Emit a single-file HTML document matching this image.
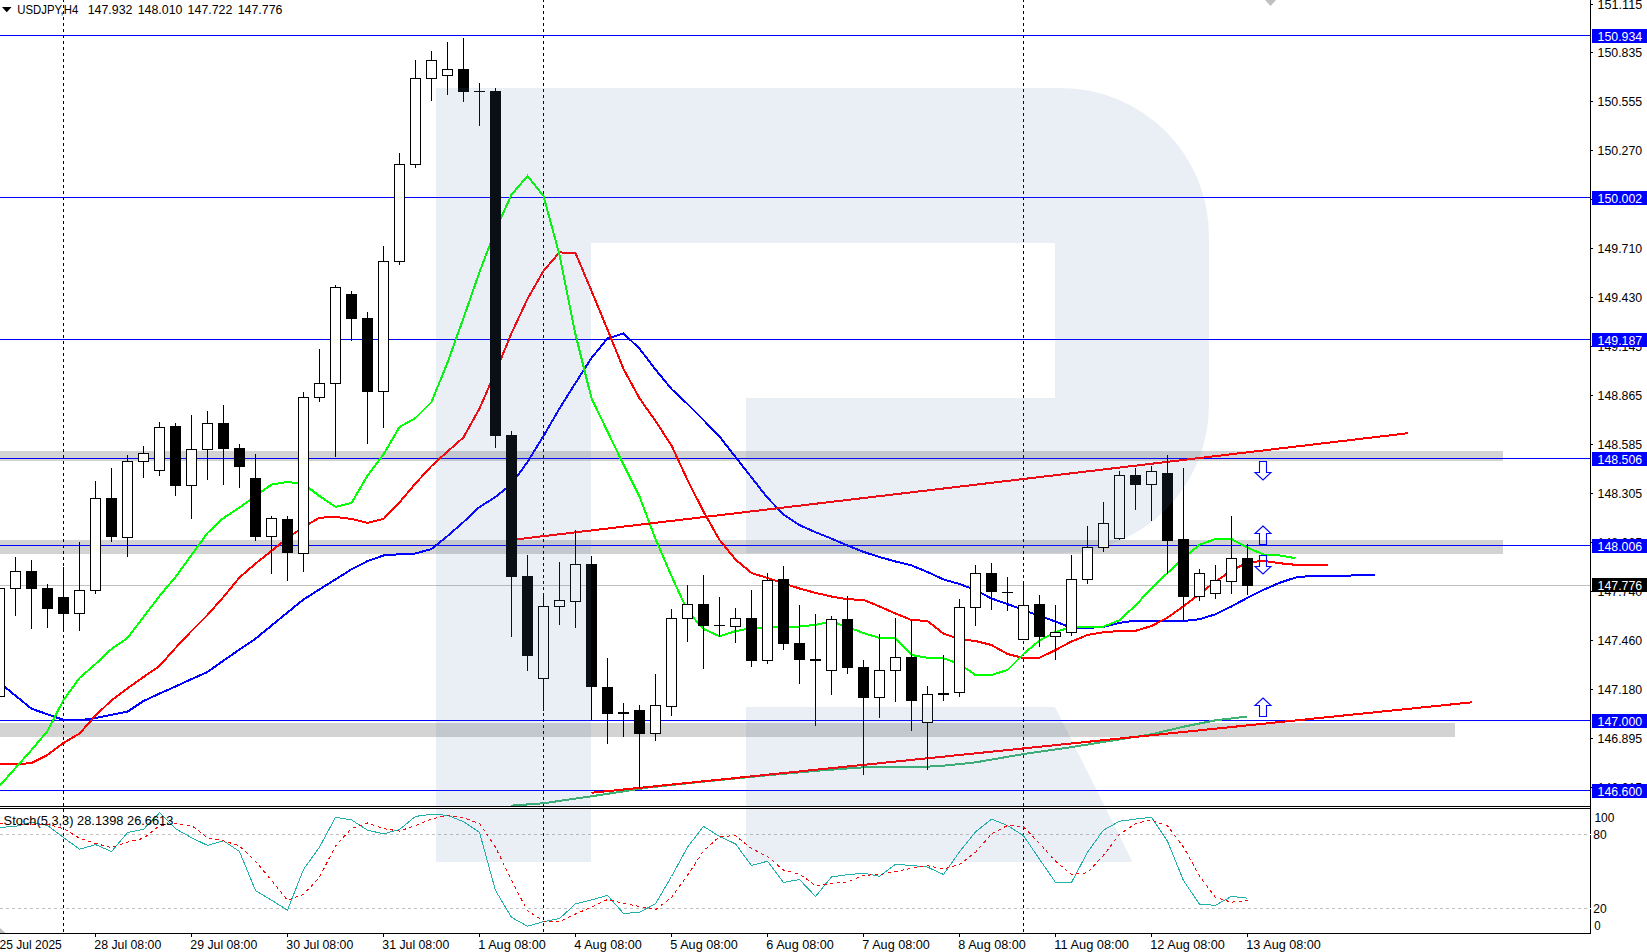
<!DOCTYPE html>
<html lang="en"><head><meta charset="utf-8"><title>USDJPY,H4</title>
<style>html,body{margin:0;padding:0;background:#fff}body{width:1647px;height:952px;overflow:hidden}svg{display:block}text{font-family:"Liberation Sans",sans-serif;font-size:12.4px;fill:#000}.w{fill:#fff}</style>
</head><body>
<svg width="1647" height="952" viewBox="0 0 1647 952">
<rect width="1647" height="952" fill="#fff"/>
<g shape-rendering="crispEdges">
<rect x="0" y="451" width="1503" height="10" fill="#d3d3d3"/>
<rect x="0" y="540" width="1503" height="14" fill="#d3d3d3"/>
<rect x="0" y="723" width="1455" height="14" fill="#d3d3d3"/>
<rect x="0" y="585" width="1590" height="1" fill="#c0c0c0"/>
<rect x="0" y="35" width="1590" height="1" fill="#0000ff"/>
<rect x="0" y="197" width="1590" height="1" fill="#0000ff"/>
<rect x="0" y="339" width="1590" height="1" fill="#0000ff"/>
<rect x="0" y="458" width="1590" height="1" fill="#0000ff"/>
<rect x="0" y="545" width="1590" height="1" fill="#0000ff"/>
<rect x="0" y="720" width="1590" height="1" fill="#0000ff"/>
<rect x="0" y="790" width="1590" height="1" fill="#0000ff"/>
<line x1="63.5" y1="-1" x2="63.5" y2="933" stroke="#000" stroke-width="1" stroke-dasharray="3 3"/>
<line x1="543.5" y1="-1" x2="543.5" y2="933" stroke="#000" stroke-width="1" stroke-dasharray="3 3"/>
<line x1="1023.5" y1="-1" x2="1023.5" y2="933" stroke="#000" stroke-width="1" stroke-dasharray="3 3"/>
<polyline fill="none" stroke="#0000ff" stroke-width="2" points="4.6,686.7 15.5,695.7 31.5,708.7 47.5,714.3 63.5,719.9 79.5,720.2 95.5,718.1 111.5,714.8 127.5,711.7 143.5,701.0 159.5,693.6 175.5,686.5 191.5,679.1 207.5,672.0 223.5,660.6 239.5,649.6 255.5,638.7 271.5,625.6 287.5,612.5 303.5,599.5 319.5,589.4 335.5,579.4 351.5,569.3 367.5,561.1 383.5,555.5 399.5,554.2 415.5,553.5 431.5,549.0 447.5,536.0 463.5,522.0 479.5,507.0 495.5,497.0 511.5,484.0 527.5,462.0 543.5,436.0 559.5,408.5 575.5,383.0 591.5,358.0 607.5,338.4 623.5,333.5 639.5,348.6 655.5,369.5 671.5,389.0 687.5,404.0 703.5,420.0 719.5,436.5 735.5,457.0 751.5,477.4 767.5,497.8 783.5,514.4 799.5,525.1 815.5,532.2 831.5,538.6 847.5,545.5 863.5,551.9 879.5,557.0 895.5,561.5 911.5,565.4 927.5,572.0 943.5,579.4 959.5,584.0 975.5,590.0 991.5,598.5 1007.5,604.1 1023.5,610.0 1039.5,616.0 1055.5,621.5 1071.5,627.9 1087.5,627.9 1103.5,627.0 1119.5,622.8 1135.5,620.7 1151.5,620.7 1167.5,620.7 1183.5,621.0 1199.5,619.2 1215.5,614.3 1231.5,606.4 1247.5,597.8 1263.5,589.8 1279.5,582.8 1295.5,577.6 1311.5,575.7 1327.5,575.7 1343.5,575.7 1359.5,575.3 1375.5,575.0"/>
<polyline fill="none" stroke="#ff0000" stroke-width="2" points="-0.5,764.0 15.5,764.5 31.5,763.0 47.5,755.0 63.5,743.0 79.5,733.5 95.5,715.6 111.5,700.3 127.5,688.3 143.5,677.0 159.5,666.0 175.5,648.0 191.5,631.0 207.5,615.0 223.5,597.0 239.5,577.5 255.5,563.6 271.5,551.0 287.5,538.0 303.5,527.0 319.5,517.7 335.5,517.0 351.5,519.0 367.5,522.8 383.5,519.0 399.5,502.4 415.5,483.5 431.5,466.0 447.5,451.5 463.5,437.4 479.5,408.5 495.5,372.0 511.5,333.3 527.5,299.0 543.5,270.8 559.5,252.4 575.5,253.0 591.5,291.0 607.5,329.5 623.5,369.0 639.5,398.3 655.5,421.0 671.5,445.5 687.5,480.0 703.5,511.5 719.5,539.9 735.5,559.5 751.5,573.0 767.5,578.0 783.5,583.3 799.5,588.5 815.5,592.9 831.5,596.5 847.5,599.3 863.5,599.8 879.5,606.5 895.5,613.5 911.5,620.0 927.5,621.0 943.5,633.6 959.5,639.2 975.5,641.0 991.5,645.0 1007.5,654.0 1023.5,658.0 1039.5,657.8 1055.5,650.0 1071.5,641.5 1087.5,635.0 1103.5,632.2 1119.5,631.0 1135.5,630.8 1151.5,626.0 1167.5,617.7 1183.5,606.2 1199.5,594.0 1215.5,581.5 1231.5,570.6 1247.5,562.5 1263.5,560.8 1279.5,563.2 1295.5,564.8 1311.5,564.8 1327.5,564.8"/>
<polyline fill="none" stroke="#00ff00" stroke-width="2" points="-0.5,786.0 15.5,768.0 31.5,750.0 47.5,731.0 63.5,700.0 79.5,678.0 95.5,664.0 111.5,649.0 127.5,638.0 143.5,617.0 159.5,596.0 175.5,577.0 191.5,555.0 207.5,533.0 223.5,518.0 239.5,507.5 255.5,496.0 271.5,484.6 287.5,482.0 303.5,484.0 319.5,496.0 335.5,506.8 351.5,503.0 367.5,475.6 383.5,454.5 399.5,427.0 415.5,418.0 431.5,402.0 447.5,362.6 463.5,318.0 479.5,272.0 495.5,230.0 511.5,194.7 527.5,176.0 543.5,196.0 559.5,255.0 575.5,334.6 591.5,398.3 607.5,431.5 623.5,464.6 639.5,496.5 655.5,539.0 671.5,576.0 687.5,611.0 703.5,629.0 719.5,636.3 735.5,631.2 751.5,628.0 767.5,627.9 783.5,626.5 799.5,626.6 815.5,624.8 831.5,621.5 847.5,627.0 863.5,633.0 879.5,638.0 895.5,638.0 911.5,655.0 927.5,657.8 943.5,658.3 959.5,664.0 975.5,675.0 991.5,675.0 1007.5,670.0 1023.5,654.0 1039.5,640.5 1055.5,632.0 1071.5,627.0 1087.5,626.8 1103.5,626.6 1119.5,620.2 1135.5,605.4 1151.5,588.3 1167.5,573.0 1183.5,558.0 1199.5,544.8 1215.5,539.0 1231.5,539.0 1247.5,547.7 1263.5,554.5 1279.5,555.4 1295.5,558.2"/>
<clipPath id="mc"><rect x="0" y="0" width="1590" height="806"/></clipPath>
<polyline clip-path="url(#mc)" fill="none" stroke="#3cb371" stroke-width="2" points="510.6,805.7 543.8,803.2 591.5,796.3 648.3,787.5 700,782 760,776 820,770.5 863.6,767.3 900,767 927.4,766.7 943.5,765.7 975.4,762.4 1023.6,754 1071.5,747.1 1119.5,739.4 1151.6,734.3 1183.5,726.7 1215.6,720.3 1247.5,716.5"/>
<line x1="517" y1="539.3" x2="1408" y2="433.2" stroke="#ff0000" stroke-width="2"/>
<line x1="591.5" y1="792.8" x2="1472" y2="702.3" stroke="#ff0000" stroke-width="2"/>
</g>
<g fill="none" stroke="#0000ff" stroke-width="1.1">
<path d="M1259.5,461.5 H1266.5 V472.5 H1271 L1263,480.0 L1255,472.5 H1259.5 Z"/>
<path d="M1263,526 L1271,533.5 H1266.5 V544.5 H1259.5 V533.5 H1255 Z"/>
<path d="M1259.5,555.5 H1266.5 V566.5 H1271 L1263,574.0 L1255,566.5 H1259.5 Z"/>
<path d="M1263,698 L1271,705.5 H1266.5 V716.5 H1259.5 V705.5 H1255 Z"/>
</g>
<g shape-rendering="crispEdges">
<rect x="-5.5" y="588.5" width="10" height="108" fill="#fff" stroke="#000" stroke-width="1"/>
<rect x="15" y="557" width="1" height="59" fill="#000"/>
<rect x="10.5" y="571.5" width="10" height="17" fill="#fff" stroke="#000" stroke-width="1"/>
<rect x="31" y="560" width="1" height="69" fill="#000"/>
<rect x="26" y="571" width="11" height="18" fill="#000"/>
<rect x="47" y="584" width="1" height="44" fill="#000"/>
<rect x="42" y="588" width="11" height="21" fill="#000"/>
<rect x="63" y="567" width="1" height="64" fill="#000"/>
<rect x="58" y="597" width="11" height="17" fill="#000"/>
<rect x="79" y="542" width="1" height="89" fill="#000"/>
<rect x="74.5" y="590.5" width="10" height="23" fill="#fff" stroke="#000" stroke-width="1"/>
<rect x="95" y="481" width="1" height="113" fill="#000"/>
<rect x="90.5" y="498.5" width="10" height="92" fill="#fff" stroke="#000" stroke-width="1"/>
<rect x="111" y="468" width="1" height="74" fill="#000"/>
<rect x="106" y="498" width="11" height="39" fill="#000"/>
<rect x="127" y="455" width="1" height="102" fill="#000"/>
<rect x="122.5" y="461.5" width="10" height="76" fill="#fff" stroke="#000" stroke-width="1"/>
<rect x="143" y="446" width="1" height="32" fill="#000"/>
<rect x="138.5" y="453.5" width="10" height="8" fill="#fff" stroke="#000" stroke-width="1"/>
<rect x="159" y="422" width="1" height="54" fill="#000"/>
<rect x="154.5" y="427.5" width="10" height="43" fill="#fff" stroke="#000" stroke-width="1"/>
<rect x="175" y="423" width="1" height="73" fill="#000"/>
<rect x="170" y="426" width="11" height="60" fill="#000"/>
<rect x="191" y="415" width="1" height="104" fill="#000"/>
<rect x="186.5" y="449.5" width="10" height="36" fill="#fff" stroke="#000" stroke-width="1"/>
<rect x="207" y="411" width="1" height="69" fill="#000"/>
<rect x="202.5" y="423.5" width="10" height="26" fill="#fff" stroke="#000" stroke-width="1"/>
<rect x="223" y="405" width="1" height="80" fill="#000"/>
<rect x="218" y="423" width="11" height="26" fill="#000"/>
<rect x="239" y="444" width="1" height="44" fill="#000"/>
<rect x="234" y="448" width="11" height="19" fill="#000"/>
<rect x="255" y="454" width="1" height="87" fill="#000"/>
<rect x="250" y="478" width="11" height="59" fill="#000"/>
<rect x="271" y="516" width="1" height="58" fill="#000"/>
<rect x="266.5" y="518.5" width="10" height="18" fill="#fff" stroke="#000" stroke-width="1"/>
<rect x="287" y="516" width="1" height="65" fill="#000"/>
<rect x="282" y="519" width="11" height="34" fill="#000"/>
<rect x="303" y="392" width="1" height="180" fill="#000"/>
<rect x="298.5" y="397.5" width="10" height="156" fill="#fff" stroke="#000" stroke-width="1"/>
<rect x="319" y="349" width="1" height="53" fill="#000"/>
<rect x="314.5" y="383.5" width="10" height="14" fill="#fff" stroke="#000" stroke-width="1"/>
<rect x="335" y="285" width="1" height="172" fill="#000"/>
<rect x="330.5" y="287.5" width="10" height="96" fill="#fff" stroke="#000" stroke-width="1"/>
<rect x="351" y="291" width="1" height="50" fill="#000"/>
<rect x="346" y="294" width="11" height="25" fill="#000"/>
<rect x="367" y="312" width="1" height="132" fill="#000"/>
<rect x="362" y="318" width="11" height="74" fill="#000"/>
<rect x="383" y="246" width="1" height="182" fill="#000"/>
<rect x="378.5" y="261.5" width="10" height="130" fill="#fff" stroke="#000" stroke-width="1"/>
<rect x="399" y="153" width="1" height="112" fill="#000"/>
<rect x="394.5" y="164.5" width="10" height="97" fill="#fff" stroke="#000" stroke-width="1"/>
<rect x="415" y="60" width="1" height="108" fill="#000"/>
<rect x="410.5" y="78.5" width="10" height="86" fill="#fff" stroke="#000" stroke-width="1"/>
<rect x="431" y="51" width="1" height="50" fill="#000"/>
<rect x="426.5" y="60.5" width="10" height="18" fill="#fff" stroke="#000" stroke-width="1"/>
<rect x="447" y="42" width="1" height="53" fill="#000"/>
<rect x="442.5" y="69.5" width="10" height="6" fill="#fff" stroke="#000" stroke-width="1"/>
<rect x="463" y="38" width="1" height="64" fill="#000"/>
<rect x="458" y="69" width="11" height="23" fill="#000"/>
<rect x="479" y="83" width="1" height="43" fill="#000"/>
<rect x="474" y="91" width="11" height="1" fill="#000"/>
<rect x="495" y="88" width="1" height="360" fill="#000"/>
<rect x="490" y="91" width="11" height="345" fill="#000"/>
<rect x="511" y="431" width="1" height="206" fill="#000"/>
<rect x="506" y="435" width="11" height="142" fill="#000"/>
<rect x="527" y="555" width="1" height="116" fill="#000"/>
<rect x="522" y="576" width="11" height="80" fill="#000"/>
<rect x="543" y="596" width="1" height="115" fill="#000"/>
<rect x="538.5" y="606.5" width="10" height="72" fill="#fff" stroke="#000" stroke-width="1"/>
<rect x="559" y="562" width="1" height="63" fill="#000"/>
<rect x="554.5" y="600.5" width="10" height="6" fill="#fff" stroke="#000" stroke-width="1"/>
<rect x="575" y="530" width="1" height="98" fill="#000"/>
<rect x="570.5" y="564.5" width="10" height="37" fill="#fff" stroke="#000" stroke-width="1"/>
<rect x="591" y="556" width="1" height="164" fill="#000"/>
<rect x="586" y="564" width="11" height="123" fill="#000"/>
<rect x="607" y="658" width="1" height="86" fill="#000"/>
<rect x="602" y="687" width="11" height="27" fill="#000"/>
<rect x="623" y="703" width="1" height="34" fill="#000"/>
<rect x="618" y="712" width="11" height="2" fill="#000"/>
<rect x="639" y="705" width="1" height="83" fill="#000"/>
<rect x="634" y="710" width="11" height="24" fill="#000"/>
<rect x="655" y="674" width="1" height="67" fill="#000"/>
<rect x="650.5" y="705.5" width="10" height="28" fill="#fff" stroke="#000" stroke-width="1"/>
<rect x="671" y="609" width="1" height="107" fill="#000"/>
<rect x="666.5" y="618.5" width="10" height="88" fill="#fff" stroke="#000" stroke-width="1"/>
<rect x="687" y="585" width="1" height="57" fill="#000"/>
<rect x="682.5" y="604.5" width="10" height="14" fill="#fff" stroke="#000" stroke-width="1"/>
<rect x="703" y="575" width="1" height="94" fill="#000"/>
<rect x="698" y="604" width="11" height="22" fill="#000"/>
<rect x="719" y="597" width="1" height="40" fill="#000"/>
<rect x="714" y="625" width="11" height="1" fill="#000"/>
<rect x="735" y="608" width="1" height="35" fill="#000"/>
<rect x="730.5" y="618.5" width="10" height="8" fill="#fff" stroke="#000" stroke-width="1"/>
<rect x="751" y="590" width="1" height="77" fill="#000"/>
<rect x="746" y="618" width="11" height="43" fill="#000"/>
<rect x="767" y="573" width="1" height="91" fill="#000"/>
<rect x="762.5" y="580.5" width="10" height="80" fill="#fff" stroke="#000" stroke-width="1"/>
<rect x="783" y="566" width="1" height="84" fill="#000"/>
<rect x="778" y="579" width="11" height="65" fill="#000"/>
<rect x="799" y="605" width="1" height="79" fill="#000"/>
<rect x="794" y="643" width="11" height="17" fill="#000"/>
<rect x="815" y="614" width="1" height="112" fill="#000"/>
<rect x="810" y="659" width="11" height="2" fill="#000"/>
<rect x="831" y="616" width="1" height="79" fill="#000"/>
<rect x="826.5" y="619.5" width="10" height="51" fill="#fff" stroke="#000" stroke-width="1"/>
<rect x="847" y="596" width="1" height="78" fill="#000"/>
<rect x="842" y="619" width="11" height="49" fill="#000"/>
<rect x="863" y="660" width="1" height="115" fill="#000"/>
<rect x="858" y="667" width="11" height="31" fill="#000"/>
<rect x="879" y="634" width="1" height="84" fill="#000"/>
<rect x="874.5" y="670.5" width="10" height="27" fill="#fff" stroke="#000" stroke-width="1"/>
<rect x="895" y="618" width="1" height="84" fill="#000"/>
<rect x="890.5" y="657.5" width="10" height="13" fill="#fff" stroke="#000" stroke-width="1"/>
<rect x="911" y="620" width="1" height="111" fill="#000"/>
<rect x="906" y="657" width="11" height="44" fill="#000"/>
<rect x="927" y="686" width="1" height="84" fill="#000"/>
<rect x="922.5" y="694.5" width="10" height="28" fill="#fff" stroke="#000" stroke-width="1"/>
<rect x="943" y="655" width="1" height="46" fill="#000"/>
<rect x="938" y="693" width="11" height="2" fill="#000"/>
<rect x="959" y="599" width="1" height="98" fill="#000"/>
<rect x="954.5" y="607.5" width="10" height="85" fill="#fff" stroke="#000" stroke-width="1"/>
<rect x="975" y="565" width="1" height="61" fill="#000"/>
<rect x="970.5" y="573.5" width="10" height="34" fill="#fff" stroke="#000" stroke-width="1"/>
<rect x="991" y="563" width="1" height="47" fill="#000"/>
<rect x="986" y="573" width="11" height="19" fill="#000"/>
<rect x="1007" y="577" width="1" height="34" fill="#000"/>
<rect x="1002" y="592" width="11" height="1" fill="#000"/>
<rect x="1023" y="581" width="1" height="59" fill="#000"/>
<rect x="1018.5" y="605.5" width="10" height="34" fill="#fff" stroke="#000" stroke-width="1"/>
<rect x="1039" y="595" width="1" height="52" fill="#000"/>
<rect x="1034" y="604" width="11" height="33" fill="#000"/>
<rect x="1055" y="605" width="1" height="55" fill="#000"/>
<rect x="1050.5" y="632.5" width="10" height="4" fill="#fff" stroke="#000" stroke-width="1"/>
<rect x="1071" y="555" width="1" height="81" fill="#000"/>
<rect x="1066.5" y="579.5" width="10" height="53" fill="#fff" stroke="#000" stroke-width="1"/>
<rect x="1087" y="526" width="1" height="58" fill="#000"/>
<rect x="1082.5" y="547.5" width="10" height="32" fill="#fff" stroke="#000" stroke-width="1"/>
<rect x="1103" y="502" width="1" height="50" fill="#000"/>
<rect x="1098.5" y="523.5" width="10" height="24" fill="#fff" stroke="#000" stroke-width="1"/>
<rect x="1119" y="471" width="1" height="69" fill="#000"/>
<rect x="1114.5" y="475.5" width="10" height="63" fill="#fff" stroke="#000" stroke-width="1"/>
<rect x="1135" y="468" width="1" height="42" fill="#000"/>
<rect x="1130" y="475" width="11" height="10" fill="#000"/>
<rect x="1151" y="466" width="1" height="55" fill="#000"/>
<rect x="1146.5" y="471.5" width="10" height="13" fill="#fff" stroke="#000" stroke-width="1"/>
<rect x="1167" y="455" width="1" height="119" fill="#000"/>
<rect x="1162" y="473" width="11" height="68" fill="#000"/>
<rect x="1183" y="468" width="1" height="153" fill="#000"/>
<rect x="1178" y="539" width="11" height="58" fill="#000"/>
<rect x="1199" y="569" width="1" height="32" fill="#000"/>
<rect x="1194.5" y="573.5" width="10" height="23" fill="#fff" stroke="#000" stroke-width="1"/>
<rect x="1215" y="565" width="1" height="34" fill="#000"/>
<rect x="1210.5" y="580.5" width="10" height="13" fill="#fff" stroke="#000" stroke-width="1"/>
<rect x="1231" y="516" width="1" height="78" fill="#000"/>
<rect x="1226.5" y="558.5" width="10" height="23" fill="#fff" stroke="#000" stroke-width="1"/>
<rect x="1247" y="544" width="1" height="51" fill="#000"/>
<rect x="1242" y="558" width="11" height="28" fill="#000"/>
</g>
<g shape-rendering="crispEdges">
<line x1="0" y1="834.5" x2="1590" y2="834.5" stroke="#c0c0c0" stroke-width="1" stroke-dasharray="3 3"/>
<line x1="0" y1="908.5" x2="1590" y2="908.5" stroke="#c0c0c0" stroke-width="1" stroke-dasharray="3 3"/>
</g>
<polyline shape-rendering="crispEdges" fill="none" stroke="#20b2aa" stroke-width="1" points="-0.5,827.5 15.5,826.3 31.5,822.4 47.5,825.5 63.5,837.5 79.5,849.2 95.5,844.6 111.5,851.5 127.5,832.6 143.5,829.3 159.5,812.8 175.5,828.8 191.5,837.7 207.5,845.4 223.5,840.8 239.5,851.5 255.5,890.5 271.5,900.2 287.5,910.2 303.5,869.4 319.5,847.2 335.5,817.3 351.5,819.9 367.5,830.1 383.5,833.9 399.5,829.5 415.5,816.4 431.5,814.3 447.5,815.3 463.5,821.7 479.5,832.4 495.5,890.5 511.5,917.3 527.5,926.2 543.5,921.7 559.5,918.6 575.5,903.8 591.5,900.0 607.5,895.4 623.5,913.5 639.5,912.2 655.5,903.8 671.5,876.5 687.5,847.2 703.5,826.3 719.5,836.5 735.5,843.9 751.5,865.5 767.5,861.2 783.5,882.4 799.5,879.6 815.5,896.4 831.5,877.0 847.5,874.7 863.5,873.2 879.5,876.3 895.5,864.3 911.5,865.5 927.5,867.1 943.5,874.5 959.5,851.8 975.5,831.9 991.5,819.1 1007.5,825.5 1023.5,835.7 1039.5,859.2 1055.5,882.4 1071.5,882.4 1087.5,852.3 1103.5,830.1 1119.5,821.2 1135.5,819.1 1151.5,817.3 1167.5,841.3 1183.5,880.6 1199.5,904.2 1215.5,905.3 1231.5,896.3 1247.5,898.2"/>
<polyline shape-rendering="crispEdges" fill="none" stroke="#ff0000" stroke-width="1" stroke-dasharray="3.3 3.3" points="-0.5,823.7 15.5,824.7 31.5,824.2 47.5,824.2 63.5,828.6 79.5,838.3 95.5,843.4 111.5,847.7 127.5,842.1 143.5,838.3 159.5,825.5 175.5,823.7 191.5,825.5 207.5,837.7 223.5,840.8 239.5,845.9 255.5,861.2 271.5,880.3 287.5,900.2 303.5,894.4 319.5,877.3 335.5,845.9 351.5,828.6 367.5,823.0 383.5,828.6 399.5,831.1 415.5,825.5 431.5,819.1 447.5,815.3 463.5,817.9 479.5,823.5 495.5,847.2 511.5,880.3 527.5,910.9 543.5,921.1 559.5,921.7 575.5,914.0 591.5,907.1 607.5,899.5 623.5,903.3 639.5,906.6 655.5,909.7 671.5,897.4 687.5,875.2 703.5,851.0 719.5,836.5 735.5,835.7 751.5,848.5 767.5,856.6 783.5,870.1 799.5,874.0 815.5,885.6 831.5,883.4 847.5,882.1 863.5,875.2 879.5,874.7 895.5,871.4 911.5,868.4 927.5,865.8 943.5,868.9 959.5,864.5 975.5,852.3 991.5,833.9 1007.5,825.5 1023.5,826.8 1039.5,843.4 1055.5,861.2 1071.5,874.5 1087.5,872.7 1103.5,855.3 1119.5,834.4 1135.5,823.5 1151.5,820.0 1167.5,826.0 1183.5,847.0 1199.5,876.0 1215.5,897.4 1231.5,902.2 1247.5,900.3"/>
<path d="M436,88 H1061 A148,148 0 0 1 1209,236 V405 A148,148 0 0 1 1061,553 H746 V398 H1055 V243 H591 V862 H436 Z M746,707 H1055 L1132.5,862 H746 Z" fill="#5078b4" fill-opacity="0.12"/>
<g shape-rendering="crispEdges" fill="#000">
<rect x="0" y="806" width="1590" height="1"/>
<rect x="0" y="807" width="1590" height="1" fill="#fff"/>
<rect x="0" y="808" width="1590" height="1"/>
<rect x="1590" y="0" width="1" height="934"/>
<rect x="0" y="933" width="1591" height="1"/>
<rect x="1590" y="834" width="1" height="1" fill="#fff"/>
<rect x="1590" y="908" width="1" height="1" fill="#fff"/>
<rect x="1591" y="0" width="56" height="952" fill="#fff"/>
<rect x="0" y="934" width="1647" height="18" fill="#fff"/>
<rect x="1591" y="4" width="2" height="1"/>
<rect x="1591" y="52" width="2" height="1"/>
<rect x="1591" y="101" width="2" height="1"/>
<rect x="1591" y="150" width="2" height="1"/>
<rect x="1591" y="199" width="2" height="1"/>
<rect x="1591" y="248" width="2" height="1"/>
<rect x="1591" y="297" width="2" height="1"/>
<rect x="1591" y="346" width="2" height="1"/>
<rect x="1591" y="395" width="2" height="1"/>
<rect x="1591" y="444" width="2" height="1"/>
<rect x="1591" y="493" width="2" height="1"/>
<rect x="1591" y="542" width="2" height="1"/>
<rect x="1591" y="591" width="2" height="1"/>
<rect x="1591" y="640" width="2" height="1"/>
<rect x="1591" y="689" width="2" height="1"/>
<rect x="1591" y="738" width="2" height="1"/>
<rect x="1591" y="787" width="2" height="1"/>
<rect x="95" y="934" width="1" height="3"/>
<rect x="191" y="934" width="1" height="3"/>
<rect x="287" y="934" width="1" height="3"/>
<rect x="383" y="934" width="1" height="3"/>
<rect x="479" y="934" width="1" height="3"/>
<rect x="575" y="934" width="1" height="3"/>
<rect x="671" y="934" width="1" height="3"/>
<rect x="767" y="934" width="1" height="3"/>
<rect x="863" y="934" width="1" height="3"/>
<rect x="959" y="934" width="1" height="3"/>
<rect x="1055" y="934" width="1" height="3"/>
<rect x="1151" y="934" width="1" height="3"/>
<rect x="1247" y="934" width="1" height="3"/>
</g>
<path d="M0,928 L5.5,933 H0 Z" fill="#c0c0c0"/>
<path d="M1265,0 H1276 L1270.5,6 Z" fill="#c0c0c0"/>
<text x="1597.6" y="9" textLength="44.6" lengthAdjust="spacingAndGlyphs">151.115</text>
<text x="1597.6" y="57" textLength="44.6" lengthAdjust="spacingAndGlyphs">150.835</text>
<text x="1597.6" y="106" textLength="44.6" lengthAdjust="spacingAndGlyphs">150.555</text>
<text x="1597.6" y="155" textLength="44.6" lengthAdjust="spacingAndGlyphs">150.270</text>
<text x="1597.6" y="204" textLength="44.6" lengthAdjust="spacingAndGlyphs">149.990</text>
<text x="1597.6" y="253" textLength="44.6" lengthAdjust="spacingAndGlyphs">149.710</text>
<text x="1597.6" y="302" textLength="44.6" lengthAdjust="spacingAndGlyphs">149.430</text>
<text x="1597.6" y="351" textLength="44.6" lengthAdjust="spacingAndGlyphs">149.145</text>
<text x="1597.6" y="400" textLength="44.6" lengthAdjust="spacingAndGlyphs">148.865</text>
<text x="1597.6" y="449" textLength="44.6" lengthAdjust="spacingAndGlyphs">148.585</text>
<text x="1597.6" y="498" textLength="44.6" lengthAdjust="spacingAndGlyphs">148.305</text>
<text x="1597.6" y="547" textLength="44.6" lengthAdjust="spacingAndGlyphs">148.025</text>
<text x="1597.6" y="596" textLength="44.6" lengthAdjust="spacingAndGlyphs">147.740</text>
<text x="1597.6" y="645" textLength="44.6" lengthAdjust="spacingAndGlyphs">147.460</text>
<text x="1597.6" y="694" textLength="44.6" lengthAdjust="spacingAndGlyphs">147.180</text>
<text x="1597.6" y="743" textLength="44.6" lengthAdjust="spacingAndGlyphs">146.895</text>
<text x="1597.6" y="792" textLength="44.6" lengthAdjust="spacingAndGlyphs">146.615</text>
<g shape-rendering="crispEdges">
<rect x="1592" y="29" width="55" height="14" fill="#0000ff"/>
<rect x="1592" y="191" width="55" height="14" fill="#0000ff"/>
<rect x="1592" y="333" width="55" height="14" fill="#0000ff"/>
<rect x="1592" y="452" width="55" height="14" fill="#0000ff"/>
<rect x="1592" y="539" width="55" height="14" fill="#0000ff"/>
<rect x="1592" y="714" width="55" height="14" fill="#0000ff"/>
<rect x="1592" y="784" width="55" height="14" fill="#0000ff"/>
<rect x="1592" y="578" width="55" height="14" fill="#000"/>
</g>
<text class="w" x="1597.6" y="41" textLength="44.6" lengthAdjust="spacingAndGlyphs">150.934</text>
<text class="w" x="1597.6" y="203" textLength="44.6" lengthAdjust="spacingAndGlyphs">150.002</text>
<text class="w" x="1597.6" y="345" textLength="44.6" lengthAdjust="spacingAndGlyphs">149.187</text>
<text class="w" x="1597.6" y="464" textLength="44.6" lengthAdjust="spacingAndGlyphs">148.506</text>
<text class="w" x="1597.6" y="551" textLength="44.6" lengthAdjust="spacingAndGlyphs">148.006</text>
<text class="w" x="1597.6" y="726" textLength="44.6" lengthAdjust="spacingAndGlyphs">147.000</text>
<text class="w" x="1597.6" y="796" textLength="44.6" lengthAdjust="spacingAndGlyphs">146.600</text>
<text class="w" x="1597.6" y="590" textLength="44.6" lengthAdjust="spacingAndGlyphs">147.776</text>
<text x="1594.4" y="822" textLength="20" lengthAdjust="spacingAndGlyphs">100</text>
<text x="1593.2" y="839" textLength="13.4" lengthAdjust="spacingAndGlyphs">80</text>
<text x="1593.2" y="913" textLength="13.4" lengthAdjust="spacingAndGlyphs">20</text>
<text x="1594.2" y="930" textLength="6.4" lengthAdjust="spacingAndGlyphs">0</text>
<text x="-0.5" y="949" textLength="62.3" lengthAdjust="spacingAndGlyphs">25 Jul 2025</text>
<text x="94.3" y="949" textLength="67" lengthAdjust="spacingAndGlyphs">28 Jul 08:00</text>
<text x="190.3" y="949" textLength="67" lengthAdjust="spacingAndGlyphs">29 Jul 08:00</text>
<text x="286.3" y="949" textLength="67" lengthAdjust="spacingAndGlyphs">30 Jul 08:00</text>
<text x="382.3" y="949" textLength="67" lengthAdjust="spacingAndGlyphs">31 Jul 08:00</text>
<text x="478.3" y="949" textLength="67.6" lengthAdjust="spacingAndGlyphs">1 Aug 08:00</text>
<text x="574.3" y="949" textLength="67.6" lengthAdjust="spacingAndGlyphs">4 Aug 08:00</text>
<text x="670.3" y="949" textLength="67.6" lengthAdjust="spacingAndGlyphs">5 Aug 08:00</text>
<text x="766.3" y="949" textLength="67.6" lengthAdjust="spacingAndGlyphs">6 Aug 08:00</text>
<text x="862.3" y="949" textLength="67.6" lengthAdjust="spacingAndGlyphs">7 Aug 08:00</text>
<text x="958.3" y="949" textLength="67.6" lengthAdjust="spacingAndGlyphs">8 Aug 08:00</text>
<text x="1054.3" y="949" textLength="74.6" lengthAdjust="spacingAndGlyphs">11 Aug 08:00</text>
<text x="1150.3" y="949" textLength="74.6" lengthAdjust="spacingAndGlyphs">12 Aug 08:00</text>
<text x="1246.3" y="949" textLength="74.6" lengthAdjust="spacingAndGlyphs">13 Aug 08:00</text>
<path d="M2,7 H11.5 L6.75,12.2 Z" fill="#000"/>
<text x="17.3" y="14" textLength="61" lengthAdjust="spacingAndGlyphs">USDJPY,H4</text>
<text x="87.7" y="14" textLength="44.8" lengthAdjust="spacingAndGlyphs">147.932</text>
<text x="137.7" y="14" textLength="44.8" lengthAdjust="spacingAndGlyphs">148.010</text>
<text x="187.6" y="14" textLength="44.8" lengthAdjust="spacingAndGlyphs">147.722</text>
<text x="237.7" y="14" textLength="44.8" lengthAdjust="spacingAndGlyphs">147.776</text>
<text x="3.6" y="824.5" textLength="169.8" lengthAdjust="spacingAndGlyphs">Stoch(5,3,3) 28.1398 26.6613</text>
</svg></body></html>
